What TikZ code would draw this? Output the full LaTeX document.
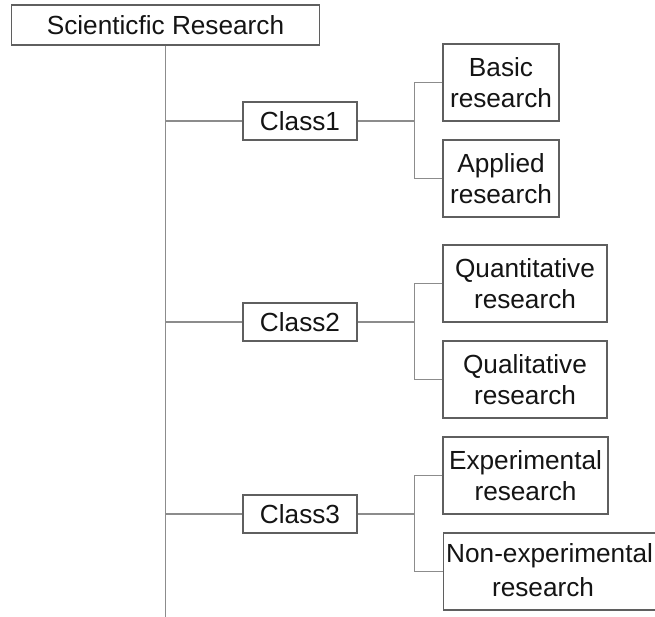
\documentclass[tikz,border=0pt]{standalone}
\usepackage{fontspec}
\setmainfont{Liberation Sans}
\begin{document}
\begin{tikzpicture}[x=1pt,y=-1pt,
  conn/.style={draw={rgb,255:red,140;green,140;blue,140}, line width=1.2pt},
  box/.style={draw={rgb,255:red,95;green,95;blue,95}, line width=1.2pt, fill=white, rectangle, inner sep=0pt, align=center,
    font=\fontsize{26.2pt}{31pt}\selectfont, text={rgb,255:red,20;green,20;blue,20}},
  txt/.style={inner sep=0pt, font=\fontsize{26.2pt}{31pt}\selectfont, text={rgb,255:red,20;green,20;blue,20}}]
\useasboundingbox (0,0) rectangle (655,616);
% root
\node[box, minimum width=308pt, minimum height=40pt] (root) at (165.5,25) {Scienticfic Research};
\coordinate (mainend) at (165.5,620);
% classes
\node[box, minimum width=114pt, minimum height=38pt] (c1) at (300,121) {Class1};
\node[box, minimum width=114pt, minimum height=38pt] (c2) at (300,322) {Class2};
\node[box, minimum width=114pt, minimum height=38pt] (c3) at (300,514) {Class3};
% leaves
\node[box, minimum width=116pt, minimum height=77pt] (l1a) at (501,82.5) {Basic\\research};
\node[box, minimum width=116pt, minimum height=77pt] (l1b) at (501,178.5) {Applied\\research};
\node[box, minimum width=164pt, minimum height=77pt] (l2a) at (525,283.5) {Quantitative\\research};
\node[box, minimum width=164pt, minimum height=77pt] (l2b) at (525,379.5) {Qualitative\\research};
\node[box, minimum width=165pt, minimum height=77pt] (l3a) at (525.5,475.5) {Experimental\\research};
\node[box, minimum width=260pt, minimum height=77pt, anchor=west] (l3b) at (443,571.5) {};
\node[txt, anchor=west] (l3bt1) at (446,556) {Non-experimental};
\node[txt] (l3bt2) at (543,587) {research};
% connectors
\draw[conn] (root.south -| mainend) -- (mainend);
\foreach \c/\a/\b in {c1/l1a/l1b, c2/l2a/l2b, c3/l3a/l3b}{
  \path ([xshift=-28pt]\a.west) coordinate (k\c);
  \draw[conn] (\c.west -| mainend) -- (\c.west);
  \draw[conn] (\c.east) -- (\c.east -| k\c);
  \draw[conn] (\a.west) -- (k\c) -- (k\c |- \b.west) -- (\b.west);
}
\end{tikzpicture}
\end{document}
